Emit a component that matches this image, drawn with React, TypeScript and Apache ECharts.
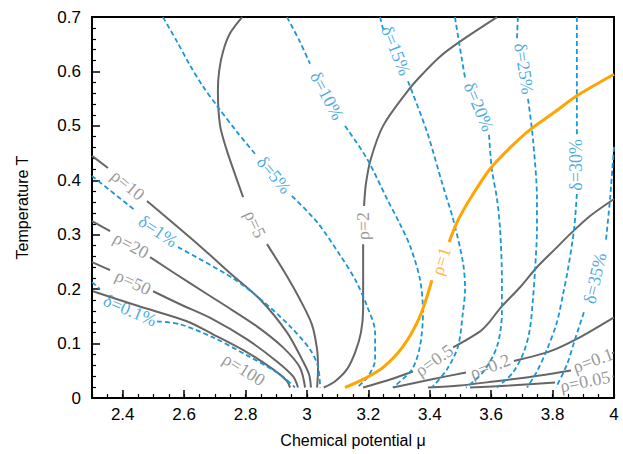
import React, { useEffect, useRef } from "react";
import * as echarts from "echarts";

// ---- axis ticks ----
const xMajorTicks = [2.4, 2.6, 2.8, 3, 3.2, 3.4, 3.6, 3.8, 4];

// ---- contour lines: each is a list of segments of [mu, T] (gaps where labels sit) ----
const rho100 = [[[2.303, 0.196], [2.456, 0.168], [2.609, 0.141], [2.694, 0.117], [2.805, 0.084], [2.889, 0.053], [2.935, 0.031], [2.945, 0.019]]];
const rho50 = [
  [[2.300, 0.2495], [2.359, 0.2348]],
  [[2.499, 0.1961], [2.587, 0.1722], [2.694, 0.1446], [2.805, 0.1077], [2.902, 0.0672], [2.955, 0.0396], [2.971, 0.0193]],
];
const rho20 = [
  [[2.300, 0.325], [2.359, 0.3066]],
  [[2.489, 0.2587], [2.619, 0.2109], [2.727, 0.1722], [2.837, 0.1317], [2.922, 0.093], [2.977, 0.0562], [2.994, 0.0193]],
];
const rho10 = [
  [[2.300, 0.4448], [2.352, 0.4227]],
  [[2.479, 0.3619], [2.652, 0.279], [2.75, 0.2293], [2.847, 0.1814], [2.935, 0.1206], [2.984, 0.0709], [3.007, 0.0433], [3.013, 0.0193]],
];
const rho5 = [
  [[2.789, 0.6998], [2.75, 0.6704], [2.727, 0.6372], [2.714, 0.6004], [2.71, 0.5635], [2.717, 0.5009], [2.737, 0.4586], [2.759, 0.4218], [2.792, 0.3692]],
  [[2.87, 0.2827], [2.935, 0.2238], [2.977, 0.1814], [3.016, 0.1354], [3.033, 0.0893], [3.036, 0.0525], [3.033, 0.0193]],
];
const rho2 = [
  [[3.619, 0.6998], [3.498, 0.6547], [3.433, 0.6271], [3.368, 0.5902], [3.326, 0.5626], [3.248, 0.5], [3.208, 0.4392], [3.192, 0.3932], [3.186, 0.3527]],
  [[3.183, 0.2827], [3.183, 0.2182], [3.183, 0.163], [3.176, 0.1206], [3.157, 0.0838], [3.13, 0.0525], [3.091, 0.0304], [3.055, 0.0193]],
];
const rho1 = [
  [[3.124, 0.0193], [3.183, 0.0341], [3.248, 0.0562], [3.313, 0.0948], [3.368, 0.1501], [3.407, 0.2164]],
  [[3.463, 0.2864], [3.489, 0.3232], [3.531, 0.3656], [3.596, 0.4208], [3.661, 0.4595], [3.726, 0.4926], [3.808, 0.5258], [3.879, 0.5552], [4.0, 0.5948]],
];
const rho05 = [
  [[3.183, 0.0193], [3.271, 0.0341], [3.345, 0.0488]],
  [[3.476, 0.093], [3.564, 0.1225], [3.596, 0.1409], [3.629, 0.1648], [3.694, 0.2035], [3.749, 0.2403], [3.808, 0.2735], [3.857, 0.3011], [3.922, 0.3343], [4.0, 0.3656]],
];
const rho02 = [
  [[3.28, 0.0193], [3.404, 0.0341], [3.518, 0.047]],
  [[3.674, 0.0681], [3.791, 0.0856], [3.882, 0.1096], [4.0, 0.1483]],
];
const rho01 = [
  [[3.394, 0.0193], [3.498, 0.023], [3.609, 0.0304], [3.736, 0.0396], [3.86, 0.0506]],
  [[3.994, 0.082], [4.0, 0.0838]],
];
const rho005 = [
  [[3.531, 0.0193], [3.661, 0.023], [3.808, 0.0285]],
  [[3.995, 0.0396], [4.0, 0.0396]],
];

const delta01 = [
  [[2.3, 0.213], [2.326, 0.2]],
  [[2.512, 0.1409], [2.587, 0.1354], [2.694, 0.1114], [2.805, 0.0783], [2.912, 0.0433], [2.961, 0.0193]],
];
const delta1 = [
  [[2.3, 0.4079], [2.443, 0.3435]],
  [[2.58, 0.2772], [2.759, 0.2201], [2.857, 0.1777], [2.945, 0.1317], [3.01, 0.0893], [3.036, 0.058], [3.043, 0.0193]],
];
const delta5 = [
  [[2.531, 0.6998], [2.577, 0.6547], [2.619, 0.6114], [2.661, 0.5727], [2.707, 0.5368], [2.772, 0.489], [2.831, 0.4485]],
  [[2.951, 0.3711], [3.033, 0.3232], [3.108, 0.2624], [3.16, 0.2145], [3.196, 0.1685], [3.222, 0.1206], [3.222, 0.0709], [3.199, 0.0396], [3.163, 0.0193]],
];
const delta10 = [
  [[2.935, 0.6998], [2.977, 0.6547], [3.01, 0.6141]],
  [[3.124, 0.5], [3.196, 0.4392], [3.261, 0.3656], [3.303, 0.3195], [3.336, 0.279], [3.368, 0.2182], [3.378, 0.1575], [3.368, 0.0948], [3.342, 0.0525], [3.28, 0.0193]],
];
const delta15 = [
  [[3.238, 0.6998], [3.248, 0.6777]],
  [[3.329, 0.582], [3.391, 0.489], [3.443, 0.3895], [3.476, 0.3287], [3.508, 0.2495], [3.515, 0.1998], [3.508, 0.1575], [3.492, 0.0948], [3.456, 0.0525], [3.407, 0.0193]],
];
const delta20 = [
  [[3.482, 0.6998], [3.505, 0.6206], [3.515, 0.5875]],
  [[3.593, 0.4834], [3.602, 0.4208], [3.619, 0.3656], [3.629, 0.3103], [3.635, 0.2182], [3.635, 0.1575], [3.619, 0.0948], [3.573, 0.047], [3.518, 0.0193]],
];
const delta25 = [
  [[3.687, 0.6998], [3.684, 0.6602]],
  [[3.72, 0.5497], [3.736, 0.476], [3.749, 0.3656], [3.749, 0.3103], [3.743, 0.2366], [3.736, 0.1814], [3.726, 0.1262], [3.707, 0.0856], [3.671, 0.047], [3.619, 0.0193]],
];
const delta30 = [
  [[3.879, 0.6998], [3.879, 0.4816]],
  [[3.879, 0.3748], [3.87, 0.3103], [3.85, 0.2366], [3.834, 0.1906], [3.814, 0.139], [3.782, 0.0893], [3.749, 0.0488], [3.717, 0.0193]],
];
const delta35 = [
  [[4.0, 0.4613], [3.987, 0.3656], [3.974, 0.291]],
  [[3.902, 0.1575], [3.873, 0.1077], [3.847, 0.0617], [3.811, 0.0193]],
];

// ---- contour labels ----
const labelTexts = ["ρ=10", "δ=1%", "ρ=20", "ρ=50", "δ=0.1%", "ρ=100", "ρ=5", "δ=5%", "δ=10%", "δ=15%", "ρ=2", "δ=20%", "δ=25%", "δ=30%", "δ=35%", "ρ=1", "ρ=0.5", "ρ=0.2", "ρ=0.1", "ρ=0.05"];
const labelMu = [2.417, 2.515, 2.427, 2.434, 2.424, 2.795, 2.831, 2.893, 3.065, 3.29, 3.183, 3.56, 3.707, 3.876, 3.938, 3.437, 3.414, 3.596, 3.932, 3.906];
const labelT = [0.3913, 0.3066, 0.2808, 0.2127, 0.1611, 0.0525, 0.3195, 0.4098, 0.5552, 0.6381, 0.3158, 0.535, 0.605, 0.4282, 0.2201, 0.2514, 0.0691, 0.058, 0.0691, 0.0304];
const labelAngle = [-40, -34, -28, -25, -23, -32, -65, -50, -62, -68, 91, -67, -81, 90, 77, 72, 35, 21, 20, 11];

const GRAY = "#666666";
const GRAY_TXT = "#7d7d7d";
const BLUE = "#1a96d6";
const ORANGE = "#ffa500";

export default function App() {
  const ref = useRef<HTMLDivElement>(null);
  useEffect(() => {
    if (!ref.current) return;
    const chart = echarts.init(ref.current, undefined, { renderer: "svg" });

    const grayLines = [rho100, rho50, rho20, rho10, rho5, rho2, rho05, rho02, rho01, rho005];
    const blueLines = [delta01, delta1, delta5, delta10, delta15, delta20, delta25, delta30, delta35];
    const series: any[] = [];
    const addLines = (groups: number[][][][], style: any, z: number) => {
      groups.forEach((segs) =>
        segs.forEach((seg) =>
          series.push({
            type: "line",
            data: seg,
            xAxisIndex: 0,
            yAxisIndex: 0,
            showSymbol: false,
            symbol: "none",
            smooth: 0.3,
            silent: true,
            z,
            lineStyle: style,
          })
        )
      );
    };
    addLines(grayLines, { color: GRAY, width: 2, type: "solid" }, 2);
    addLines(blueLines, { color: BLUE, width: 1.8, type: [5, 3] }, 3);
    addLines([rho1], { color: ORANGE, width: 3, type: "solid" }, 4);

    series.push({
      type: "scatter",
      xAxisIndex: 0,
      yAxisIndex: 0,
      symbolSize: 0.1,
      silent: true,
      z: 5,
      itemStyle: { color: "rgba(0,0,0,0)" },
      data: labelTexts.map((t, i) => ({
        value: [labelMu[i], labelT[i]],
        label: {
          formatter: t,
          rotate: labelAngle[i],
          color: t === "ρ=1" ? ORANGE : t.startsWith("δ") ? BLUE : GRAY_TXT,
        },
      })),
      label: {
        show: true,
        position: "inside",
        align: "center",
        verticalAlign: "middle",
        fontFamily: '"Liberation Serif", "DejaVu Serif", serif',
        fontSize: 18,
      },
    });

    const axisFont = { fontFamily: '"Liberation Sans", Arial, sans-serif', color: "#000" };

    chart.setOption({
      animation: false,
      grid: { left: 92, right: 9, top: 17, bottom: 56, show: true, borderColor: "#000", borderWidth: 2 },
      xAxis: [
        {
          type: "value",
          min: 2.3,
          max: 4,
          interval: 0.05,
          position: "bottom",
          axisLine: { show: true, onZero: false, lineStyle: { color: "#000", width: 2 } },
          axisTick: { show: true, inside: true, length: 4, lineStyle: { color: "#000", width: 1.2 } },
          axisLabel: { show: false },
          splitLine: { show: false },
          name: "Chemical potential μ",
          nameLocation: "middle",
          nameGap: 34,
          nameTextStyle: { ...axisFont, fontSize: 16 },
        },
        {
          type: "value",
          min: 2.3,
          max: 4,
          position: "bottom",
          axisLine: { show: false },
          axisTick: { show: true, inside: true, length: 8, customValues: xMajorTicks, lineStyle: { color: "#000", width: 1.5 } },
          axisLabel: { show: true, customValues: xMajorTicks, margin: 8, fontSize: 17, ...axisFont },
          splitLine: { show: false },
        },
      ],
      yAxis: {
        type: "value",
        min: 0,
        max: 0.7,
        interval: 0.1,
        axisLine: { show: true, onZero: false, lineStyle: { color: "#000", width: 2 } },
        axisTick: { show: true, inside: true, length: 8, lineStyle: { color: "#000", width: 1.5 } },
        minorTick: { show: true, splitNumber: 5, length: 4, lineStyle: { color: "#000", width: 1.2 } },
        axisLabel: { margin: 11, fontSize: 17, ...axisFont },
        splitLine: { show: false },
        minorSplitLine: { show: false },
        name: "Temperature T",
        nameLocation: "middle",
        nameGap: 62,
        nameTextStyle: { ...axisFont, fontSize: 16 },
      },
      series,
    });
    return () => chart.dispose();
  }, []);

  return <div ref={ref} style={{ position: "fixed", left: 0, top: 0, width: 623, height: 454, background: "#fff" }} />;
}
